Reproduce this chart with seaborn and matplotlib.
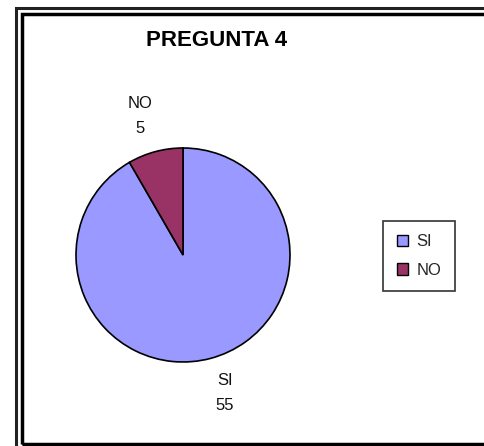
import matplotlib
matplotlib.use("Agg")
import matplotlib.pyplot as plt
import seaborn as sns
from matplotlib.patches import Patch, Rectangle

sns.set_theme(style="white")
plt.rcParams['font.family'] = ['Liberation Sans', 'DejaVu Sans']

title = "PREGUNTA 4"
categories = ["SI", "NO"]
values = [55, 5]
colors = ["#9999FF", "#993366"]

W, H = 485, 446
fig = plt.figure(figsize=(W / 100, H / 100), dpi=100)
fig.patch.set_facecolor("white")

# double frame
fig.patches.append(Rectangle((16 / W, -0.05), 2, 1 - 8 / H + 0.05, transform=fig.transFigure,
                             fill=False, edgecolor="#222222", linewidth=2.2))
fig.patches.append(Rectangle((22.5 / W, 2 / H), 2, 1 - 13.5 / H - 2 / H, transform=fig.transFigure,
                             fill=False, edgecolor="black", linewidth=2.5))

cx, cy, r = 183, 255, 107
ax = fig.add_axes([(cx - r) / W, (H - cy - r) / H, 2 * r / W, 2 * r / H])
wedges, _ = ax.pie(values, colors=colors, startangle=90, counterclock=False,
                   wedgeprops=dict(edgecolor="black", linewidth=1.2), radius=1.0)
ax.set_xlim(-1, 1)
ax.set_ylim(-1, 1)
ax.set_aspect("equal")
ax.axis("off")

label_pos = {"SI": (0.39, -1.29), "NO": (-0.40, 1.30)}
for cat, val in zip(categories, values):
    x, y = label_pos[cat]
    ax.text(x, y, f"{cat}\n{val}", ha="center", va="center", fontsize=12,
            linespacing=1.8, color="#111111")

fig.text(217 / W, 1 - 41 / H, title, ha="center", va="center", fontsize=16,
         fontweight="bold", color="black")

handles = [Patch(facecolor=c, edgecolor="black", linewidth=1.0) for c in colors]
leg = fig.legend(handles, categories, loc="center", bbox_to_anchor=(419 / W, 1 - 256 / H),
                 frameon=True, fontsize=12, handlelength=0.7, handleheight=0.7,
                 handletextpad=0.5, borderpad=0.8, labelspacing=0.8, fancybox=False,
                 borderaxespad=0)
leg.get_frame().set_edgecolor("black")
leg.get_frame().set_linewidth(1.2)

fig.savefig("out.png", dpi=100)
